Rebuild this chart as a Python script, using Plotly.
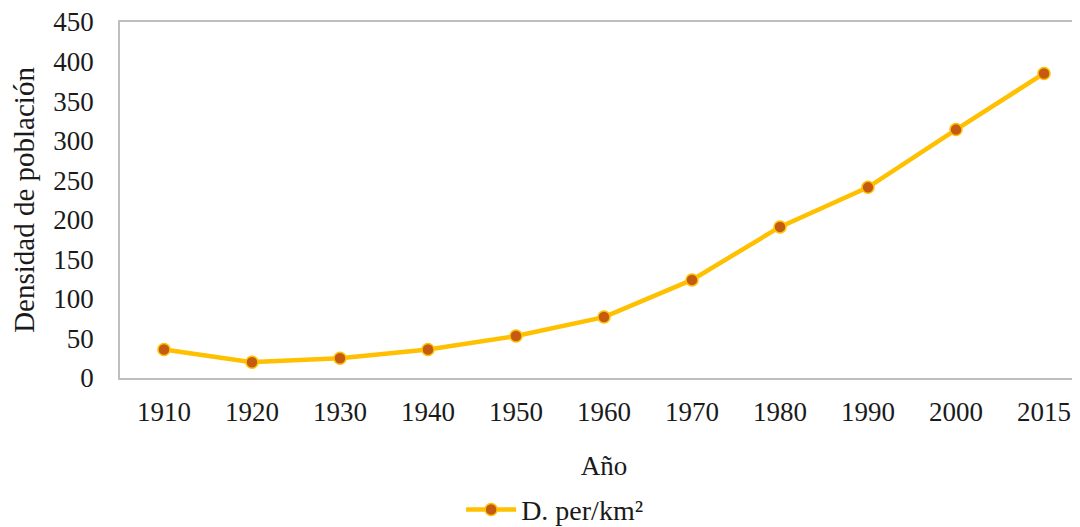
import plotly.graph_objects as go

years = ["1910", "1920", "1930", "1940", "1950", "1960", "1970", "1980", "1990", "2000", "2015"]
density = [36, 20, 25, 36, 53, 77, 124, 191, 241, 314, 385]
series_name = "D. per/km²"
y_ticks = [0, 50, 100, 150, 200, 250, 300, 350, 400, 450]

FONT = "Liberation Serif"
fig = go.Figure()
fig.add_trace(go.Scatter(
    x=years, y=density, name=series_name, mode="lines+markers",
    line=dict(color="#FFC000", width=4.5),
    marker=dict(size=12, color="#C55A11", line=dict(color="#FFC000", width=1.5)),
    showlegend=True,
))
fig.update_layout(
    width=1080, height=527,
    margin=dict(l=112, r=0, t=14, b=157),
    paper_bgcolor="white", plot_bgcolor="white",
    font=dict(family=FONT, size=27, color="#1a1a1a"),
    xaxis=dict(
        type="category", range=[-0.5, 10.5],
        showline=True, linecolor="#BFBFBF", linewidth=1.5, mirror=True,
        showgrid=False, ticks="", ticklabelstandoff=9,
        title=dict(text="Año", standoff=30, font=dict(size=27)),
    ),
    yaxis=dict(
        range=[0, 450], tickvals=y_ticks, ticklabeloverflow="allow",
        showline=True, linecolor="#BFBFBF", linewidth=1.5,
        showgrid=False, zeroline=False, ticks="", ticklabelstandoff=19,
        title=dict(text="Densidad de población", standoff=12, font=dict(size=29)),
    ),
    legend=dict(orientation="h", x=0.449, xanchor="center", y=-0.3, yanchor="top",
                font=dict(size=28), itemwidth=50),
)
fig.write_html("out.html")
